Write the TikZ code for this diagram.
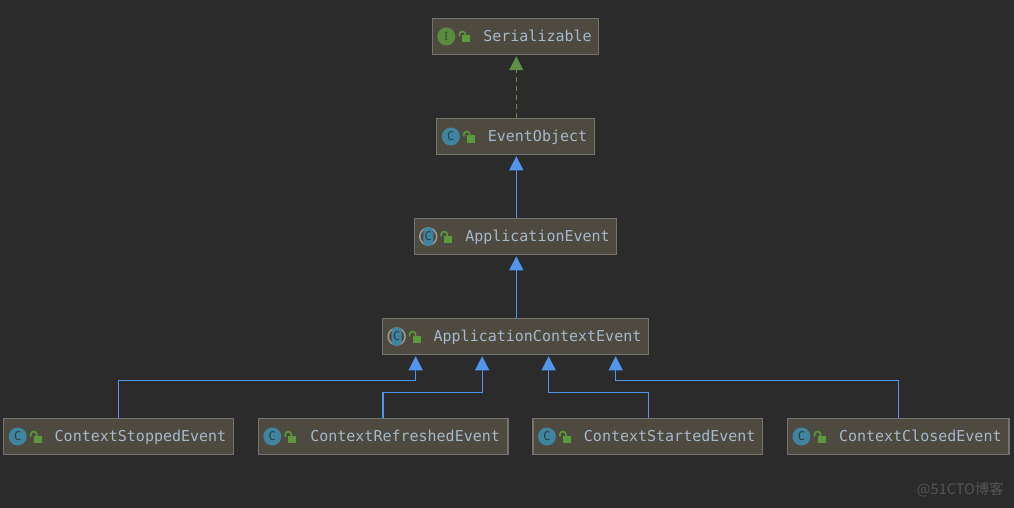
\documentclass[tikz,border=0pt]{standalone}
\usepackage{fontspec}
\setmonofont{DejaVu Sans Mono}
\newfontfamily\cjkfont{Noto Sans CJK SC}
\usepackage{tikz}
\usetikzlibrary{arrows.meta,calc,positioning}
\definecolor{bgdark}{HTML}{2B2B2B}
\definecolor{boxfill}{HTML}{4E4A40}
\definecolor{boxline}{HTML}{74746F}
\definecolor{nametext}{HTML}{A5B8CC}
\definecolor{extblue}{HTML}{5394EC}
\definecolor{implgreen}{HTML}{5F8F48}
\definecolor{lockgreen}{HTML}{5A9A3C}
\definecolor{classteal}{HTML}{40859F}
\definecolor{ifacegreen}{HTML}{598C3E}
\definecolor{letterdark}{HTML}{2A3A3F}
\definecolor{ringgray}{HTML}{9A9A9A}
\definecolor{markgray}{HTML}{555555}
% box text starts after the room left for the two icons
\newcommand{\ClassName}[1]{\hspace{44pt}#1}

\begin{document}
\begin{tikzpicture}[
x=1pt, y=1pt,
box/.style={draw=boxline, fill=boxfill, line width=1.2pt, text=nametext, outer sep=0pt,
  font=\ttfamily\fontsize{15}{15}\selectfont, inner xsep=7pt, inner ysep=0pt,
  text height=12pt, text depth=2pt, minimum height=36.5pt},
arr/.style={-{Triangle[width=14pt,length=14pt]}, draw=extblue, line width=1.3pt, shorten >=1.5pt},
implarr/.style={-{Triangle[width=14pt,length=14pt]}, draw=implgreen, line width=1.3pt, shorten >=1.5pt, dash pattern=on 5pt off 4pt},
icon/.style={circle, minimum size=18pt, inner sep=0pt, text=letterdark, font=\ttfamily\fontsize{12}{12}\selectfont},
lockicon/.pic={
  \fill[lockgreen] (-2,-6) rectangle (6,1);
  \draw[lockgreen, line width=1.6pt] (-5,0) -- (-5,2) arc[start angle=180, end angle=0, radius=3] -- (1,0);
}
]
\fill[bgdark] (0,0) rectangle (1014,-508);
\useasboundingbox (0,0) rectangle (1014,-508);

\node[box] (ser) at (515.5,-36.5) {\ClassName{Serializable}};
\node[box, below=63.5pt of ser] (evobj) {\ClassName{EventObject}};
\node[box, below=63.5pt of evobj] (appev) {\ClassName{ApplicationEvent}};
\node[box, below=63.5pt of appev] (appctx) {\ClassName{ApplicationContextEvent}};
\node[box] (stopped) at (118.5,-436.5) {\ClassName{ContextStoppedEvent}};
\node[box, inner xsep=8pt, right=25pt of stopped] (refreshed) {\ClassName{ContextRefreshedEvent}};
\node[box, right=25pt of refreshed] (started) {\ClassName{ContextStartedEvent}};
\node[box, inner xsep=7.5pt, right=25pt of started] (closed) {\ClassName{ContextClosedEvent}};

% interface icon
\node[icon, fill=ifacegreen, font=\rmfamily\fontsize{12}{12}\selectfont] (ser-i) at ($(ser.west)+(14,0)$) {I};
\pic at ($(ser.west)+(32,0)$) {lockicon};

% plain classes
\foreach \n in {evobj,stopped,refreshed,started,closed}{
  \node[icon, fill=classteal] (\n-c) at ($(\n.west)+(14,0)$) {C};
  \pic at ($(\n.west)+(32,0)$) {lockicon};
}

% abstract classes, brackets behind a narrow tile
\foreach \n in {appev,appctx}{
  \node[icon, draw=ringgray, line width=1.5pt, minimum size=17pt] (\n-r) at ($(\n.west)+(14,0)$) {};
  \node[icon, fill=classteal, rounded corners=3pt, rectangle, minimum width=10pt, minimum height=18pt] (\n-c) at ($(\n.west)+(14,0)$) {C};
  \pic at ($(\n.west)+(32,0)$) {lockicon};
}

\draw[implarr] ($(evobj.north)+(0.8,0)$) -- ($(ser.south)+(0.8,0)$);
\draw[arr] ($(appev.north)+(0.8,0)$) -- ($(evobj.south)+(0.8,0)$);
\draw[arr] ($(appctx.north)+(0.8,0)$) -- ($(appev.south)+(0.8,0)$);

% four subclasses meet the parent at their own points
\coordinate (in1) at ($(appctx.south west)+(33,0)$);
\coordinate (in2) at ($(appctx.south west)+(99.5,0)$);
\coordinate (in3) at ($(appctx.south west)+(166,0)$);
\coordinate (in4) at ($(appctx.south west)+(233,0)$);
\draw[arr] (stopped.north) |- ($(in1)+(0,-25.5)$) -- (in1);
\draw[arr] (refreshed.north) |- ($(in2)+(0,-37.6)$) -- (in2);
\draw[arr] ($(started.north)+(0.8,0)$) |- ($(in3)+(0,-37.6)$) -- (in3);
\draw[arr] (closed.north) |- ($(in4)+(0,-25.5)$) -- (in4);

\node[text=markgray, font=\cjkfont\fontsize{14.5}{14.5}\selectfont, anchor=east, inner sep=0pt] (mark) at (1004,-490) {@51CTO博客};
\end{tikzpicture}
\end{document}
